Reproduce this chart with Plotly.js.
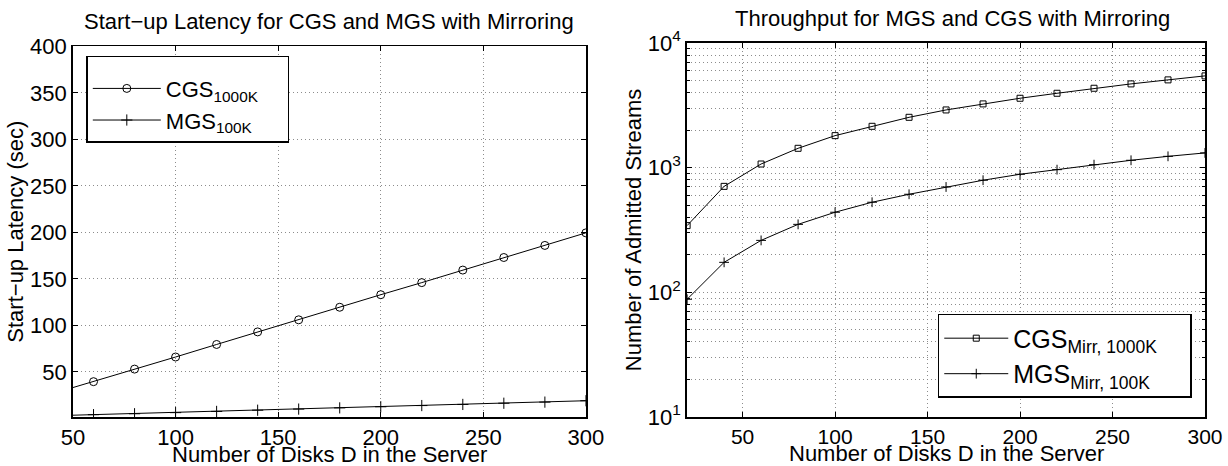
<!DOCTYPE html>
<html>
<head>
<meta charset="utf-8">
<script src="https://cdn.plot.ly/plotly-3.0.1.min.js"></script>
<style>html,body{margin:0;padding:0;background:#fff;} #chart{width:1228px;height:466px;}</style>
</head>
<body>
<div id="chart"></div>
<script>
// Left chart: start-up latency (sec)
const disksLeft = [40, 60, 80, 100, 120, 140, 160, 180, 200, 220, 240, 260, 280, 300];
const latencyCGS = [26.6, 39.5, 53, 66, 79.5, 93, 106, 119.5, 133, 146, 159.5, 173, 186, 199.5];
const latencyMGS = [2.8, 4.0, 5.0, 6.2, 7.5, 8.8, 10.0, 11.3, 12.5, 13.8, 15.0, 16.3, 17.5, 19.0];

// Right chart: admitted streams (log scale)
const disksRight = [20, 40, 60, 80, 100, 120, 140, 160, 180, 200, 220, 240, 260, 280, 300];
const streamsCGS = [343, 708, 1070, 1430, 1807, 2147, 2535, 2904, 3247, 3604, 3951, 4335, 4698, 5060, 5447];
const streamsMGS = [88, 174, 261, 351, 439, 528, 612, 700, 793, 885, 964, 1057, 1146, 1233, 1313];

const leftYTicks = [50, 100, 150, 200, 250, 300, 350, 400];
const leftXTicks = [50, 100, 150, 200, 250, 300];
const rightXTicks = [50, 100, 150, 200, 250, 300];
const rightYTicks = [10, 100, 1000, 10000];
const rightYTickText = ['10<sup>1</sup>', '10<sup>2</sup>', '10<sup>3</sup>', '10<sup>4</sup>'];

const FONT = 'Liberation Sans, Arial, Helvetica, sans-serif';
const lineStyle = {color: '#000', width: 1};
const GRID = '#8c8c8c';
const GRIDDASH = '1px,3px';
const PAD = '&nbsp;&nbsp;&nbsp;&nbsp;'; // widens the legend box like the reference

const traces = [
  {x: disksLeft, y: latencyCGS, name: 'CGS<sub>1000K</sub>' + PAD, mode: 'lines+markers', xaxis: 'x', yaxis: 'y',
   line: lineStyle, marker: {symbol: 'circle-open', size: 8, color: '#000', line: {width: 1, color: '#000'}}, legend: 'legend'},
  {x: disksLeft, y: latencyMGS, name: 'MGS<sub>100K</sub>', mode: 'lines+markers', xaxis: 'x', yaxis: 'y',
   line: lineStyle, marker: {symbol: 'cross-thin-open', size: 8, color: '#000', line: {width: 1, color: '#000'}}, legend: 'legend'},
  {x: disksRight, y: streamsCGS, name: 'CGS<sub>Mirr, 1000K</sub>' + PAD, mode: 'lines+markers', xaxis: 'x2', yaxis: 'y2',
   line: lineStyle, marker: {symbol: 'square-open', size: 6, color: '#000', line: {width: 1, color: '#000'}}, legend: 'legend2'},
  {x: disksRight, y: streamsMGS, name: 'MGS<sub>Mirr, 100K</sub>', mode: 'lines+markers', xaxis: 'x2', yaxis: 'y2',
   line: lineStyle, marker: {symbol: 'cross-thin-open', size: 7, color: '#000', line: {width: 1, color: '#000'}}, legend: 'legend2'}
];

const axisCommon = {
  showline: true, linecolor: '#000', linewidth: 1.8, mirror: 'ticks',
  ticks: 'inside', ticklen: 5, tickcolor: '#000', tickwidth: 1,
  showgrid: true, gridcolor: GRID, griddash: GRIDDASH, gridwidth: 1,
  zeroline: false, automargin: false,
  tickfont: {family: FONT, size: 22, color: '#000'}
};
const titleFont = {family: FONT, size: 22, color: '#000'};

const layout = {
  width: 1228, height: 466,
  margin: {l: 72.7, r: 23, t: 43.3, b: 49.3},
  paper_bgcolor: '#fff', plot_bgcolor: '#fff',
  font: {family: FONT, color: '#000'},
  showlegend: true,
  xaxis: Object.assign({}, axisCommon, {
    domain: [0, 0.4531], range: [50, 300], tickvals: leftXTicks, anchor: 'y'
  }),
  yaxis: Object.assign({}, axisCommon, {
    domain: [0, 0.9909], range: [1.5, 400], tickvals: leftYTicks, anchor: 'x',
    title: {text: 'Start−up Latency (sec)', font: titleFont, standoff: 0}
  }),
  xaxis2: Object.assign({}, axisCommon, {
    domain: [0.5425, 1], range: [20, 300], tickvals: rightXTicks, anchor: 'y2',
    tickfont: {family: FONT, size: 21, color: '#000'}
  }),
  yaxis2: Object.assign({}, axisCommon, {
    domain: [0, 1], type: 'log', range: [1, 4], tickvals: rightYTicks, ticktext: rightYTickText, anchor: 'x2',
    minor: {dtick: 'D1', showgrid: true, gridcolor: GRID, griddash: GRIDDASH, gridwidth: 1, ticks: 'inside', ticklen: 3, tickcolor: '#000'},
    title: {text: 'Number of Admitted Streams', font: titleFont, standoff: 0}
  }),
  legend: {
    x: 0.01175, y: 0.966, xanchor: 'left', yanchor: 'top',
    bgcolor: '#fff', bordercolor: '#000', borderwidth: 1.5,
    font: {family: FONT, size: 22, color: '#000'}, itemwidth: 68,
    title: {text: ' ', font: {size: 8}}
  },
  legend2: {
    x: 0.9883, y: 0.051, xanchor: 'right', yanchor: 'bottom',
    bgcolor: '#fff', bordercolor: '#000', borderwidth: 1.5,
    font: {family: FONT, size: 25, color: '#000'}, itemwidth: 64
  },
  annotations: [
    {text: 'Start−up Latency for CGS and MGS with Mirroring', xref: 'paper', yref: 'paper',
     x: 0.2264, y: 1, yshift: 22, xanchor: 'center', yanchor: 'middle', showarrow: false, font: titleFont},
    {text: 'Throughput for MGS and CGS with Mirroring', xref: 'paper', yref: 'paper',
     x: 0.777, y: 1, yshift: 25, xanchor: 'center', yanchor: 'middle', showarrow: false, font: titleFont},
    {text: 'Number of Disks D in the Server', xref: 'paper', yref: 'paper',
     x: 0.2264, y: 0, yshift: -37, xanchor: 'center', yanchor: 'middle', showarrow: false, font: titleFont},
    {text: 'Number of Disks D in the Server', xref: 'paper', yref: 'paper',
     x: 0.7714, y: 0, yshift: -36, xanchor: 'center', yanchor: 'middle', showarrow: false, font: titleFont}
  ]
};

Plotly.newPlot('chart', traces, layout, {displayModeBar: false, staticPlot: true});
</script>
</body>
</html>
